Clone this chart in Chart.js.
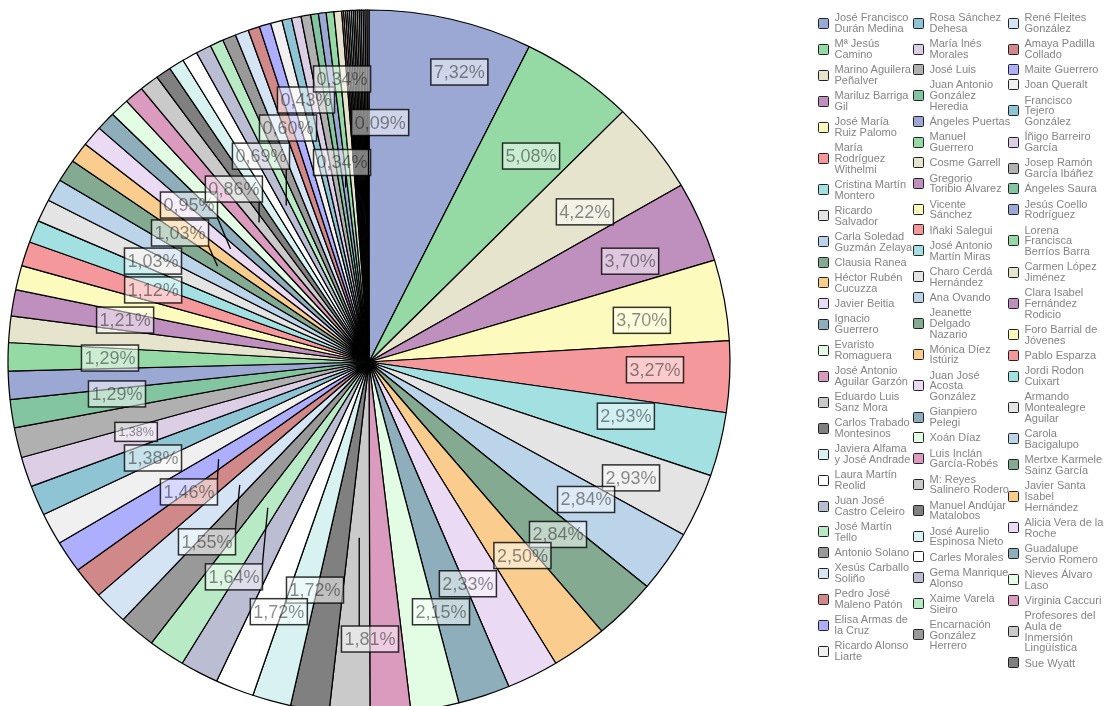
<!DOCTYPE html>
<html>
<head>
<meta charset="utf-8">
<script src="https://cdn.jsdelivr.net/npm/chart.js@4.4.1/dist/chart.umd.min.js"></script>
<style>
  html, body { margin: 0; padding: 0; width: 1107px; height: 706px; overflow: hidden; background: #fff; }
  #chart { position: absolute; left: 0; top: 0; }
  #legend { position: absolute; left: 817.5px; top: 12.3px; display: flex; }
  .col { width: 95px; }
  .item { display: flex; align-items: center; margin-bottom: 4.4px; }
  .box { flex: none; width: 9px; height: 9px; border: 1.5px solid #222; border-radius: 1.5px; margin: -1px 6px -1px 0; }
  .txt { font-family: "Liberation Sans", Arial, sans-serif; font-size: 11px; line-height: 10.8px; color: #848484; white-space: nowrap; }
</style>
</head>
<body>
<canvas id="chart" width="1107" height="720"></canvas>
<div id="legend"></div>
<script>
// nombres (una línea por elemento, tal como aparecen en la leyenda)
const names = [
  ['José Francisco', 'Durán Medina'], ['Mª Jesús', 'Camino'], ['Marino Aguilera', 'Peñalver'],
  ['Mariluz Barriga', 'Gil'], ['José María', 'Ruiz Palomo'], ['María', 'Rodríguez', 'Withelmi'],
  ['Cristina Martín', 'Montero'], ['Ricardo', 'Salvador'], ['Carla Soledad', 'Guzmán Zelaya'],
  ['Clausia Ranea'], ['Héctor Rubén', 'Cucuzza'], ['Javier Beitia'], ['Ignacio', 'Guerrero'],
  ['Evaristo', 'Romaguera'], ['José Antonio', 'Aguilar Garzón'], ['Eduardo Luis', 'Sanz Mora'],
  ['Carlos Trabado', 'Montesinos'], ['Javiera Alfama', 'y José Andrade'], ['Laura Martín', 'Reolid'],
  ['Juan José', 'Castro Celeiro'], ['José Martín', 'Tello'], ['Antonio Solano'],
  ['Xesús Carballo', 'Soliño'], ['Pedro José', 'Maleno Patón'], ['Elisa Armas de', 'la Cruz'],
  ['Ricardo Alonso', 'Liarte'],
  ['Rosa Sánchez', 'Dehesa'], ['María Inés', 'Morales'], ['José Luis'],
  ['Juan Antonio', 'González', 'Heredia'], ['Ángeles Puertas'], ['Manuel', 'Guerrero'],
  ['Cosme Garrell'], ['Gregorio', 'Toribio Álvarez'], ['Vicente', 'Sánchez'], ['Iñaki Salegui'],
  ['José Antonio', 'Martín Miras'], ['Charo Cerdá', 'Hernández'], ['Ana Ovando'],
  ['Jeanette', 'Delgado', 'Nazario'], ['Mónica Díez', 'Istúriz'], ['Juan José', 'Acosta', 'González'],
  ['Gianpiero', 'Pelegi'], ['Xoán Díaz'], ['Luis Inclán', 'García-Robés'], ['M: Reyes', 'Salinero Rodero'],
  ['Manuel Andújar', 'Matalobos'], ['José Aurelio', 'Espinosa Nieto'], ['Carles Morales'],
  ['Gema Manrique', 'Alonso'], ['Xaime Varela', 'Sieiro'], ['Encarnación', 'González', 'Herrero'],
  ['René Fleites', 'González'], ['Amaya Padilla', 'Collado'], ['Maite Guerrero'], ['Joan Queralt'],
  ['Francisco', 'Tejero', 'González'], ['Íñigo Barreiro', 'García'], ['Josep Ramón', 'García Ibáñez'],
  ['Ángeles Saura'], ['Jesús Coello', 'Rodríguez'], ['Lorena', 'Francisca', 'Berríos Barra'],
  ['Carmen López', 'Jiménez'], ['Clara Isabel', 'Fernández', 'Rodicio'], ['Foro Barrial de', 'Jóvenes'],
  ['Pablo Esparza'], ['Jordi Rodon', 'Cuixart'], ['Armando', 'Montealegre', 'Aguilar'],
  ['Carola', 'Bacigalupo'], ['Mertxe Karmele', 'Sainz García'], ['Javier Santa', 'Isabel', 'Hernández'],
  ['Alicia Vera de la', 'Roche'], ['Guadalupe', 'Servio Romero'], ['Nieves Álvaro', 'Laso'],
  ['Virginia Caccuri'], ['Profesores del', 'Aula de', 'Inmersión', 'Lingüística'], ['Sue Wyatt']
];

// número de votos de cada uno
const counts = [
  85, 59, 49, 43, 43, 38, 34, 34, 33, 33, 29, 27, 27, 25, 21, 21, 20, 20, 20, 20,
  19, 19, 18, 17, 17, 17, 16, 16, 16, 15, 15, 15, 14, 14, 13, 13, 12, 12, 12, 12,
  11, 11, 10, 10, 10, 10, 8, 8, 8, 8, 7, 7, 7, 6, 6, 6, 5, 5, 5, 4,
  4, 4, 4, 1, 1, 1, 1, 1, 1, 1, 1, 1, 1, 1, 1, 1, 1
];

// paleta (se repite cada 30)
const palette = [
  '#9ca8d4', '#95daa5', '#e6e4cd', '#bf90be', '#fcfabc', '#f5989b', '#a3e0e2', '#e4e4e4',
  '#bcd4ea', '#84ab92', '#facc8d', '#eadaf4', '#8daeba', '#e3fce4', '#db9bbe', '#cacaca',
  '#808080', '#d8f2f2', '#ffffff', '#bbbdd3', '#b7eac5', '#999999', '#d4e4f5', '#d08888',
  '#aeaeff', '#f0f0f0', '#8fc4d4', '#dccee5', '#b0b0b0', '#82c5a0'
];
const colors = names.map((_, i) => palette[i % palette.length]);

// la tarta original está algo estirada en horizontal
const STRETCH_X = 361 / 352;

// etiquetas visibles: [índice, ángulo (grados), radio relativo, con línea, pequeña]
const LABEL_SPOTS = [
  [0, 16.9, 0.861], [1, 37.5, 0.7375], [2, 54.5, 0.7345], [3, 68.4, 0.778],
  [4, 81.1, 0.765], [5, 91.6, 0.7925], [6, 102.2, 0.728], [7, 114.4, 0.797],
  [8, 123.0, 0.717], [9, 133.1, 0.717], [10, 142.3, 0.695], [11, 156.5, 0.687],
  [13, 164.3, 0.737], [15, 179.8, 0.787, true], [16, 193.0, 0.665], [17, 199.4, 0.752],
  [20, 211.5, 0.716, true], [22, 221.3, 0.68, true], [24, 233.5, 0.6205, true],
  [26, 245.5, 0.6575], [27, 252.9, 0.675, false, true], [29, 262.6, 0.704],
  [31, 270.9, 0.7176], [33, 280.0, 0.686], [35, 288.9, 0.632], [37, 295.6, 0.6635],
  [39, 305.0, 0.639, true], [41, 311.8, 0.669, true], [45, 322.7, 0.6176, true],
  [49, 332.9, 0.657, true], [52, 341.35, 0.7016], [56, 346.8, 0.7645],
  [62, 354.7, 0.8075], [60, 352.5, 0.5717, true], [76, 2.6, 0.681, true]
];

const stretchPlugin = {
  id: 'stretch',
  beforeDatasetsDraw(chart) {
    const arc = chart.getDatasetMeta(0).data[0];
    const ctx = chart.ctx;
    ctx.save();
    ctx.translate(arc.x, arc.y);
    ctx.scale(STRETCH_X, 1);
    ctx.translate(-arc.x, -arc.y);
  },
  afterDatasetsDraw(chart) {
    chart.ctx.restore();
  }
};

const labelPlugin = {
  id: 'pctLabels',
  afterDraw(chart) {
    const ctx = chart.ctx;
    const arcs = chart.getDatasetMeta(0).data;
    const cx = arcs[0].x, cy = arcs[0].y, R = arcs[0].outerRadius;
    const total = counts.reduce((a, b) => a + b, 0);
    ctx.save();
    LABEL_SPOTS.forEach(([i, deg, rf, leader, small]) => {
      const a = deg * Math.PI / 180;
      const x = cx + Math.sin(a) * rf * R * STRETCH_X;
      const y = cy - Math.cos(a) * rf * R;
      const text = (counts[i] / total * 100).toFixed(2).replace('.', ',') + '%';
      ctx.font = (small ? '12.5px' : '18px') + ' "Liberation Sans", Arial, sans-serif';
      const w = ctx.measureText(text).width + (small ? 7 : 6);
      const h = small ? 19 : 26;
      const left = x - w / 2, top = y - h / 2;
      if (leader) {
        const arc = arcs[i];
        const mid = (arc.startAngle + arc.endAngle) / 2;
        const ax = cx + Math.cos(mid) * R * 0.5 * STRETCH_X;
        const ay = cy + Math.sin(mid) * R * 0.5;
        const bx = Math.min(Math.max(ax, left), left + w);
        const by = Math.min(Math.max(ay, top), top + h);
        ctx.beginPath();
        ctx.moveTo(ax, ay);
        ctx.lineTo(bx, by);
        ctx.strokeStyle = '#000';
        ctx.lineWidth = 1.3;
        ctx.stroke();
      }
      ctx.fillStyle = 'rgba(255,255,255,0.5)';
      ctx.fillRect(left, top, w, h);
      ctx.strokeStyle = 'rgba(0,0,0,0.8)';
      ctx.lineWidth = 1.5;
      ctx.strokeRect(left, top, w, h);
      ctx.fillStyle = 'rgba(0,0,0,0.45)';
      ctx.textAlign = 'center';
      ctx.textBaseline = 'middle';
      ctx.fillText(text, x, y + 1);
    });
    ctx.restore();
  }
};

const chart = new Chart(document.getElementById('chart'), {
  type: 'pie',
  data: {
    labels: names,
    datasets: [{
      data: counts,
      backgroundColor: colors,
      borderColor: '#000',
      borderWidth: 1.2,
      hoverOffset: 0,
      clip: false
    }]
  },
  options: {
    responsive: false,
    animation: false,
    devicePixelRatio: 1,
    radius: 352,
    layout: { padding: { left: 17, right: 386, top: 10, bottom: 6 } },
    plugins: { legend: { display: false }, tooltip: { enabled: false } }
  },
  plugins: [stretchPlugin, labelPlugin]
});

// leyenda en HTML, tres columnas
const legendEl = document.getElementById('legend');
const colStarts = [0, 26, 52, names.length];
for (let c = 0; c < 3; c++) {
  const col = document.createElement('div');
  col.className = 'col';
  for (let i = colStarts[c]; i < colStarts[c + 1]; i++) {
    const item = document.createElement('div');
    item.className = 'item';
    const box = document.createElement('span');
    box.className = 'box';
    box.style.background = chart.data.datasets[0].backgroundColor[i];
    const txt = document.createElement('span');
    txt.className = 'txt';
    txt.innerHTML = chart.data.labels[i].join('<br>');
    item.appendChild(box);
    item.appendChild(txt);
    col.appendChild(item);
  }
  legendEl.appendChild(col);
}
</script>
</body>
</html>
